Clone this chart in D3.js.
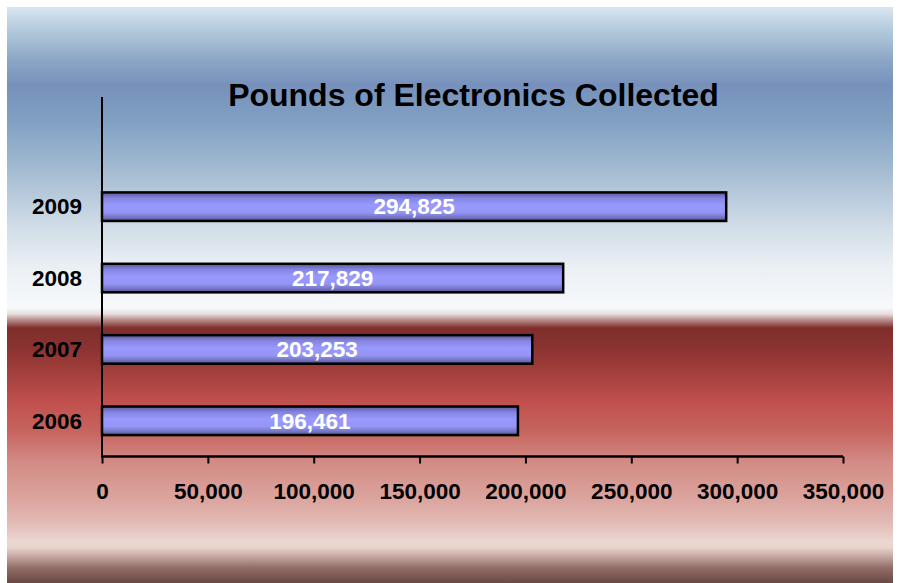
<!DOCTYPE html>
<html>
<head>
<meta charset="utf-8">
<script src="https://cdn.jsdelivr.net/npm/d3@7"></script>
<style>
  html, body { margin: 0; padding: 0; background: #ffffff; }
  svg { display: block; }
  text { font-family: Arial, "Liberation Sans", sans-serif; font-weight: bold; }
</style>
</head>
<body>
<div id="chart"></div>
<script>
// ---- data ----
const title = "Pounds of Electronics Collected";
const years = ["2006", "2007", "2008", "2009"];
const pounds = [196461, 203253, 217829, 294825];
const tickValues = [0, 50000, 100000, 150000, 200000, 250000, 300000, 350000];

const W = 898, H = 583;
const svg = d3.select("#chart").append("svg").attr("width", W).attr("height", H);
const defs = svg.append("defs");

// background gradient
const bg = defs.append("linearGradient").attr("id", "bg")
  .attr("gradientUnits", "userSpaceOnUse").attr("x1", 0).attr("x2", 0).attr("y1", 7).attr("y2", 583);
const bgStops = [
  [7, "#d8e6f0"], [30, "#b4cadc"], [60, "#8ba7c6"], [85, "#7790bb"], [120, "#80a0c2"],
  [170, "#a3bbd1"], [220, "#ccd9e5"], [265, "#eaeff4"], [308, "#f7f9fb"], [314, "#e6dedd"],
  [320, "#b88c89"], [328, "#7e2e2b"], [345, "#883230"], [372, "#a23f3c"], [402, "#c0504d"],
  [432, "#c7655f"], [462, "#d38b85"], [500, "#dca59f"], [522, "#e2bab5"], [542, "#ecd7d2"],
  [548, "#e8d2cc"], [556, "#c7aaa4"], [568, "#936c66"], [583, "#6a4843"]
];
bg.selectAll("stop").data(bgStops).enter().append("stop")
  .attr("offset", d => (d[0] - 7) / 576)
  .attr("stop-color", d => d[1]);

svg.append("rect").attr("x", 7).attr("y", 7).attr("width", 886).attr("height", 576)
  .attr("fill", "url(#bg)");

// bar gradient
const bar = defs.append("linearGradient").attr("id", "barg")
  .attr("x1", 0).attr("x2", 0).attr("y1", 0).attr("y2", 1);
[[0, "#5a5aa0"], [0.2, "#8585e2"], [0.45, "#9999ff"], [0.7, "#9595f6"], [0.88, "#7474c2"], [1, "#4f4f88"]]
  .forEach(s => bar.append("stop").attr("offset", s[0]).attr("stop-color", s[1]));

// scales
const x = d3.scaleLinear().domain([0, 350000]).range([102, 843]);
const y = d3.scaleBand().domain(years).range([456.5, 171]).paddingInner(0.6).paddingOuter(0.3);

// title
svg.append("text").attr("x", 473.5).attr("y", 106).attr("text-anchor", "middle")
  .attr("font-size", "32px").attr("fill", "#000").text(title);

// bars
const data = years.map((yr, i) => ({ year: yr, value: pounds[i] }));
svg.append("g").selectAll("rect").data(data).enter().append("rect")
  .attr("x", x(0))
  .attr("y", d => y(d.year))
  .attr("width", d => x(d.value) - x(0))
  .attr("height", y.bandwidth())
  .attr("fill", "url(#barg)")
  .attr("stroke", "#000").attr("stroke-width", 2.5);

// value labels
const fmt = d3.format(",");
svg.append("g").selectAll("text").data(data).enter().append("text")
  .attr("x", d => (x(0) + x(d.value)) / 2)
  .attr("y", d => y(d.year) + y.bandwidth() / 2 + 7.8)
  .attr("text-anchor", "middle").attr("font-size", "22.5px").attr("fill", "#ffffff")
  .text(d => fmt(d.value));

// y axis: line + labels
svg.append("line").attr("x1", 102).attr("x2", 102).attr("y1", 97).attr("y2", 457.5)
  .attr("stroke", "#000").attr("stroke-width", 2);
svg.append("g").selectAll("text").data(years).enter().append("text")
  .attr("x", 82).attr("y", d => y(d) + y.bandwidth() / 2 + 7.8)
  .attr("text-anchor", "end").attr("font-size", "22.5px").attr("fill", "#000")
  .text(d => d);

// x axis
const xAxis = d3.axisBottom(x).tickValues(tickValues).tickSize(7).tickPadding(12)
  .tickFormat(d => fmt(d));
const gx = svg.append("g").attr("transform", "translate(0,456.5)").call(xAxis);
gx.select(".domain").attr("stroke", "#000").attr("stroke-width", 2.5).attr("d", "M102,0H843");
gx.selectAll(".tick line").attr("stroke", "#000").attr("stroke-width", 2);
gx.selectAll(".tick text").attr("font-size", "22.5px").attr("fill", "#000")
  .attr("font-family", "Arial, 'Liberation Sans', sans-serif").attr("font-weight", "bold")
  .attr("dy", null).attr("y", 42);
</script>
</body>
</html>
